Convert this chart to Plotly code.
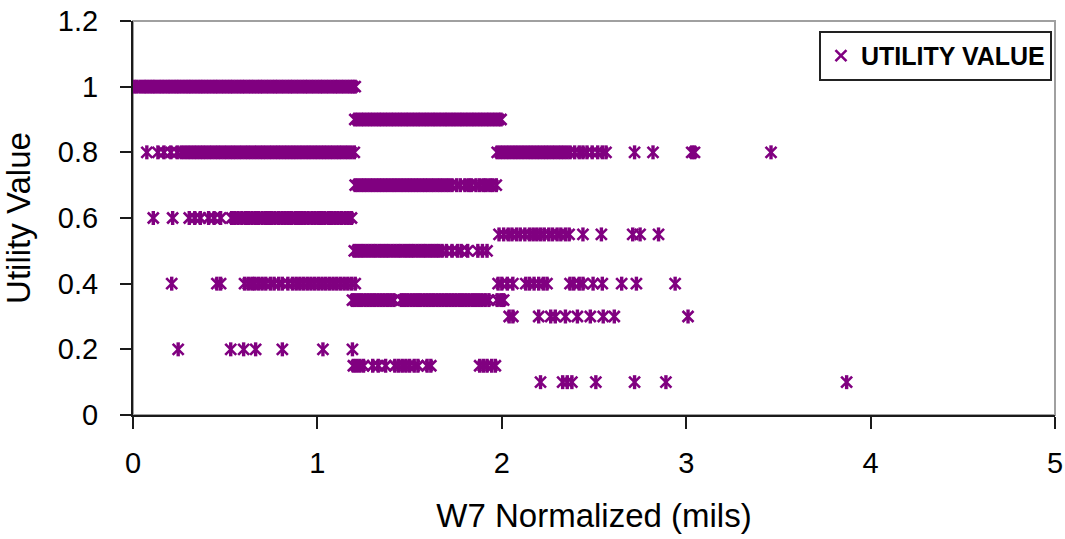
import plotly.graph_objects as go

# W7 normalized deflection (mils) recorded at each utility level
x_u100 = [0.005, 0.021, 0.040, 0.058, 0.073, 0.090, 0.106, 0.121, 0.139, 0.155, 0.171, 0.188,
          0.203, 0.220, 0.236, 0.251, 0.268, 0.285, 0.301, 0.316, 0.333, 0.350, 0.366, 0.381,
          0.398, 0.414, 0.431, 0.447, 0.462, 0.479, 0.495, 0.512, 0.528, 0.543, 0.560, 0.577,
          0.593, 0.608, 0.625, 0.641, 0.657, 0.674, 0.690, 0.705, 0.722, 0.738, 0.755, 0.771,
          0.786, 0.803, 0.819, 0.836, 0.852, 0.867, 0.884, 0.900, 0.917, 0.933, 0.948, 0.965,
          0.981, 0.998, 1.014, 1.029, 1.046, 1.062, 1.079, 1.095, 1.110, 1.127, 1.143, 1.160,
          1.176, 1.191, 1.205]
x_u090 = [1.203, 1.219, 1.236, 1.251, 1.268, 1.284, 1.300, 1.317, 1.333, 1.348, 1.365, 1.381,
          1.398, 1.413, 1.430, 1.446, 1.462, 1.479, 1.494, 1.511, 1.527, 1.544, 1.559, 1.576,
          1.592, 1.608, 1.625, 1.640, 1.657, 1.673, 1.690, 1.705, 1.722, 1.738, 1.754, 1.771,
          1.786, 1.803, 1.819, 1.836, 1.851, 1.868, 1.884, 1.900, 1.917, 1.932, 1.949, 1.965,
          1.982, 1.996]
x_u080 = [0.075, 0.135, 0.168, 0.205, 0.240, 0.262, 0.279, 0.296, 0.312, 0.329, 0.345, 0.362,
          0.378, 0.394, 0.411, 0.427, 0.444, 0.460, 0.476, 0.493, 0.509, 0.526, 0.542, 0.558,
          0.575, 0.591, 0.608, 0.624, 0.640, 0.657, 0.673, 0.690, 0.706, 0.722, 0.739, 0.755,
          0.772, 0.788, 0.804, 0.821, 0.837, 0.854, 0.870, 0.886, 0.903, 0.919, 0.936, 0.952,
          0.968, 0.985, 1.001, 1.018, 1.034, 1.050, 1.067, 1.083, 1.100, 1.116, 1.132, 1.149,
          1.165, 1.182, 1.200,
          1.975, 1.992, 2.008, 2.025, 2.041, 2.058, 2.074, 2.090, 2.107, 2.123, 2.140, 2.156,
          2.172, 2.189, 2.205, 2.222, 2.238, 2.254, 2.271, 2.287, 2.304, 2.320, 2.336, 2.353,
          2.370, 2.395, 2.420, 2.440, 2.462, 2.490, 2.520, 2.545, 2.565, 2.720, 2.820, 3.030,
          3.045, 3.460]
x_u070 = [1.205, 1.221, 1.238, 1.254, 1.270, 1.287, 1.303, 1.320, 1.336, 1.352, 1.369, 1.385,
          1.402, 1.418, 1.434, 1.451, 1.467, 1.484, 1.500, 1.516, 1.533, 1.549, 1.566, 1.582,
          1.598, 1.615, 1.631, 1.648, 1.664, 1.680, 1.697, 1.713, 1.730, 1.755, 1.775, 1.800,
          1.820, 1.835, 1.860, 1.880, 1.900, 1.915, 1.935, 1.950, 1.970]
x_u060 = [0.110, 0.215, 0.305, 0.335, 0.365, 0.410, 0.440, 0.475, 0.535, 0.552, 0.570, 0.590,
          0.610, 0.626, 0.645, 0.663, 0.680, 0.700, 0.718, 0.735, 0.752, 0.770, 0.790, 0.808,
          0.825, 0.842, 0.860, 0.880, 0.897, 0.915, 0.932, 0.950, 0.970, 0.987, 1.005, 1.022,
          1.040, 1.060, 1.077, 1.095, 1.112, 1.130, 1.150, 1.167, 1.185]
x_u055 = [1.985, 2.010, 2.035, 2.055, 2.080, 2.100, 2.125, 2.150, 2.170, 2.190, 2.210, 2.230,
          2.255, 2.275, 2.300, 2.320, 2.345, 2.365, 2.440, 2.540, 2.710, 2.750, 2.850]
x_u050 = [1.200, 1.217, 1.234, 1.250, 1.268, 1.285, 1.302, 1.318, 1.336, 1.353, 1.370, 1.386,
          1.404, 1.421, 1.438, 1.454, 1.472, 1.489, 1.506, 1.522, 1.540, 1.557, 1.574, 1.590,
          1.608, 1.625, 1.642, 1.658, 1.676, 1.700, 1.730, 1.760, 1.780, 1.815, 1.870, 1.895,
          1.920]
x_u040 = [0.210, 0.455, 0.475, 0.605, 0.625, 0.645, 0.660, 0.680, 0.700, 0.720, 0.745, 0.765,
          0.790, 0.810, 0.840, 0.865, 0.885, 0.905, 0.925, 0.945, 0.965, 0.985, 1.005, 1.025,
          1.045, 1.065, 1.085, 1.105, 1.125, 1.145, 1.165, 1.185, 1.205,
          1.980, 2.000, 2.030, 2.060, 2.130, 2.150, 2.175, 2.200, 2.225, 2.245, 2.370, 2.390,
          2.420, 2.440, 2.495, 2.545, 2.650, 2.730, 2.940]
x_u035 = [1.190, 1.205, 1.222, 1.240, 1.258, 1.275, 1.292, 1.310, 1.328, 1.345, 1.362, 1.380,
          1.398, 1.415, 1.455, 1.472, 1.490, 1.508, 1.525, 1.542, 1.560, 1.578, 1.595, 1.612,
          1.630, 1.648, 1.665, 1.682, 1.700, 1.718, 1.735, 1.752, 1.770, 1.788, 1.805, 1.822,
          1.840, 1.858, 1.875, 1.892, 1.910, 1.930, 1.975, 1.995, 2.010]
x_u030 = [2.040, 2.060, 2.200, 2.265, 2.290, 2.345, 2.410, 2.480, 2.550, 2.610, 3.010]
x_u020 = [0.245, 0.530, 0.600, 0.665, 0.810, 1.030, 1.190]
x_u015 = [1.195, 1.212, 1.230, 1.250, 1.300, 1.330, 1.370, 1.420, 1.440, 1.460, 1.480, 1.500,
          1.525, 1.545, 1.595, 1.615, 1.880, 1.900, 1.920, 1.945, 1.965]
x_u010 = [2.210, 2.330, 2.355, 2.380, 2.510, 2.720, 2.890, 3.870]

utility_levels = [1.0, 0.9, 0.8, 0.7, 0.6, 0.55, 0.5, 0.4, 0.35, 0.3, 0.2, 0.15, 0.1]
level_x = [x_u100, x_u090, x_u080, x_u070, x_u060, x_u055, x_u050, x_u040, x_u035,
           x_u030, x_u020, x_u015, x_u010]

x_ticks = [0, 1, 2, 3, 4, 5]
y_ticks = [0, 0.2, 0.4, 0.6, 0.8, 1, 1.2]
y_tick_text = ["0", "0.2", "0.4", "0.6", "0.8", "1", "1.2"]

xs, ys = [], []
for level, vals in zip(utility_levels, level_x):
    xs.extend(vals)
    ys.extend([level] * len(vals))

PURPLE = "#800080"
FONT = "Arial, Liberation Sans, sans-serif"

fig = go.Figure()
# star marker = diagonal cross plus a vertical stroke
fig.add_trace(go.Scatter(
    x=xs, y=ys, mode="markers", name="UTILITY VALUE",
    marker=dict(symbol="x-thin-open", size=11, color=PURPLE,
                line=dict(color=PURPLE, width=2.6)),
))
fig.add_trace(go.Scatter(
    x=xs, y=ys, mode="markers", showlegend=False, hoverinfo="skip",
    marker=dict(symbol="line-ns-open", size=10, color=PURPLE,
                line=dict(color=PURPLE, width=3.4)),
))

fig.update_layout(
    width=1065, height=539,
    margin=dict(l=133, r=10, t=21, b=124, autoexpand=False),
    paper_bgcolor="white", plot_bgcolor="white",
    font=dict(family=FONT, color="black"),
    showlegend=True,
    legend=dict(
        x=0.9967, xanchor="right", y=0.975, yanchor="top",
        bgcolor="white", bordercolor="#222222", borderwidth=2,
        font=dict(family=FONT, size=25, weight="bold", color="black"),
        itemwidth=30, tracegroupgap=0,
    ),
    shapes=[dict(type="rect", xref="x domain", yref="y domain",
                 x0=0, x1=1, y0=0, y1=1, layer="below",
                 line=dict(color="#a0a0a0", width=2))],
)

fig.update_xaxes(
    range=[0, 5], tickvals=x_ticks, ticktext=[str(v) for v in x_ticks],
    showgrid=False, zeroline=False, automargin=False,
    showline=True, linecolor="#1a1a1a", linewidth=2,
    ticks="outside", ticklen=12, tickwidth=2, tickcolor="#1a1a1a",
    tickfont=dict(family=FONT, size=29, color="black"),
    ticklabelstandoff=9,
    title=dict(text="W7 Normalized (mils)", font=dict(family=FONT, size=33, color="black"),
               standoff=26),
)
fig.update_yaxes(
    range=[0, 1.2], tickvals=y_ticks, ticktext=y_tick_text,
    showgrid=False, zeroline=False, automargin=False,
    showline=True, linecolor="#1a1a1a", linewidth=2,
    ticks="outside", ticklen=11, tickwidth=2, tickcolor="#1a1a1a",
    tickfont=dict(family=FONT, size=29, color="black"),
    ticklabelstandoff=16,
    title=dict(text="Utility Value", font=dict(family=FONT, size=33, color="black"),
               standoff=18),
)

fig.write_html("out.html")
